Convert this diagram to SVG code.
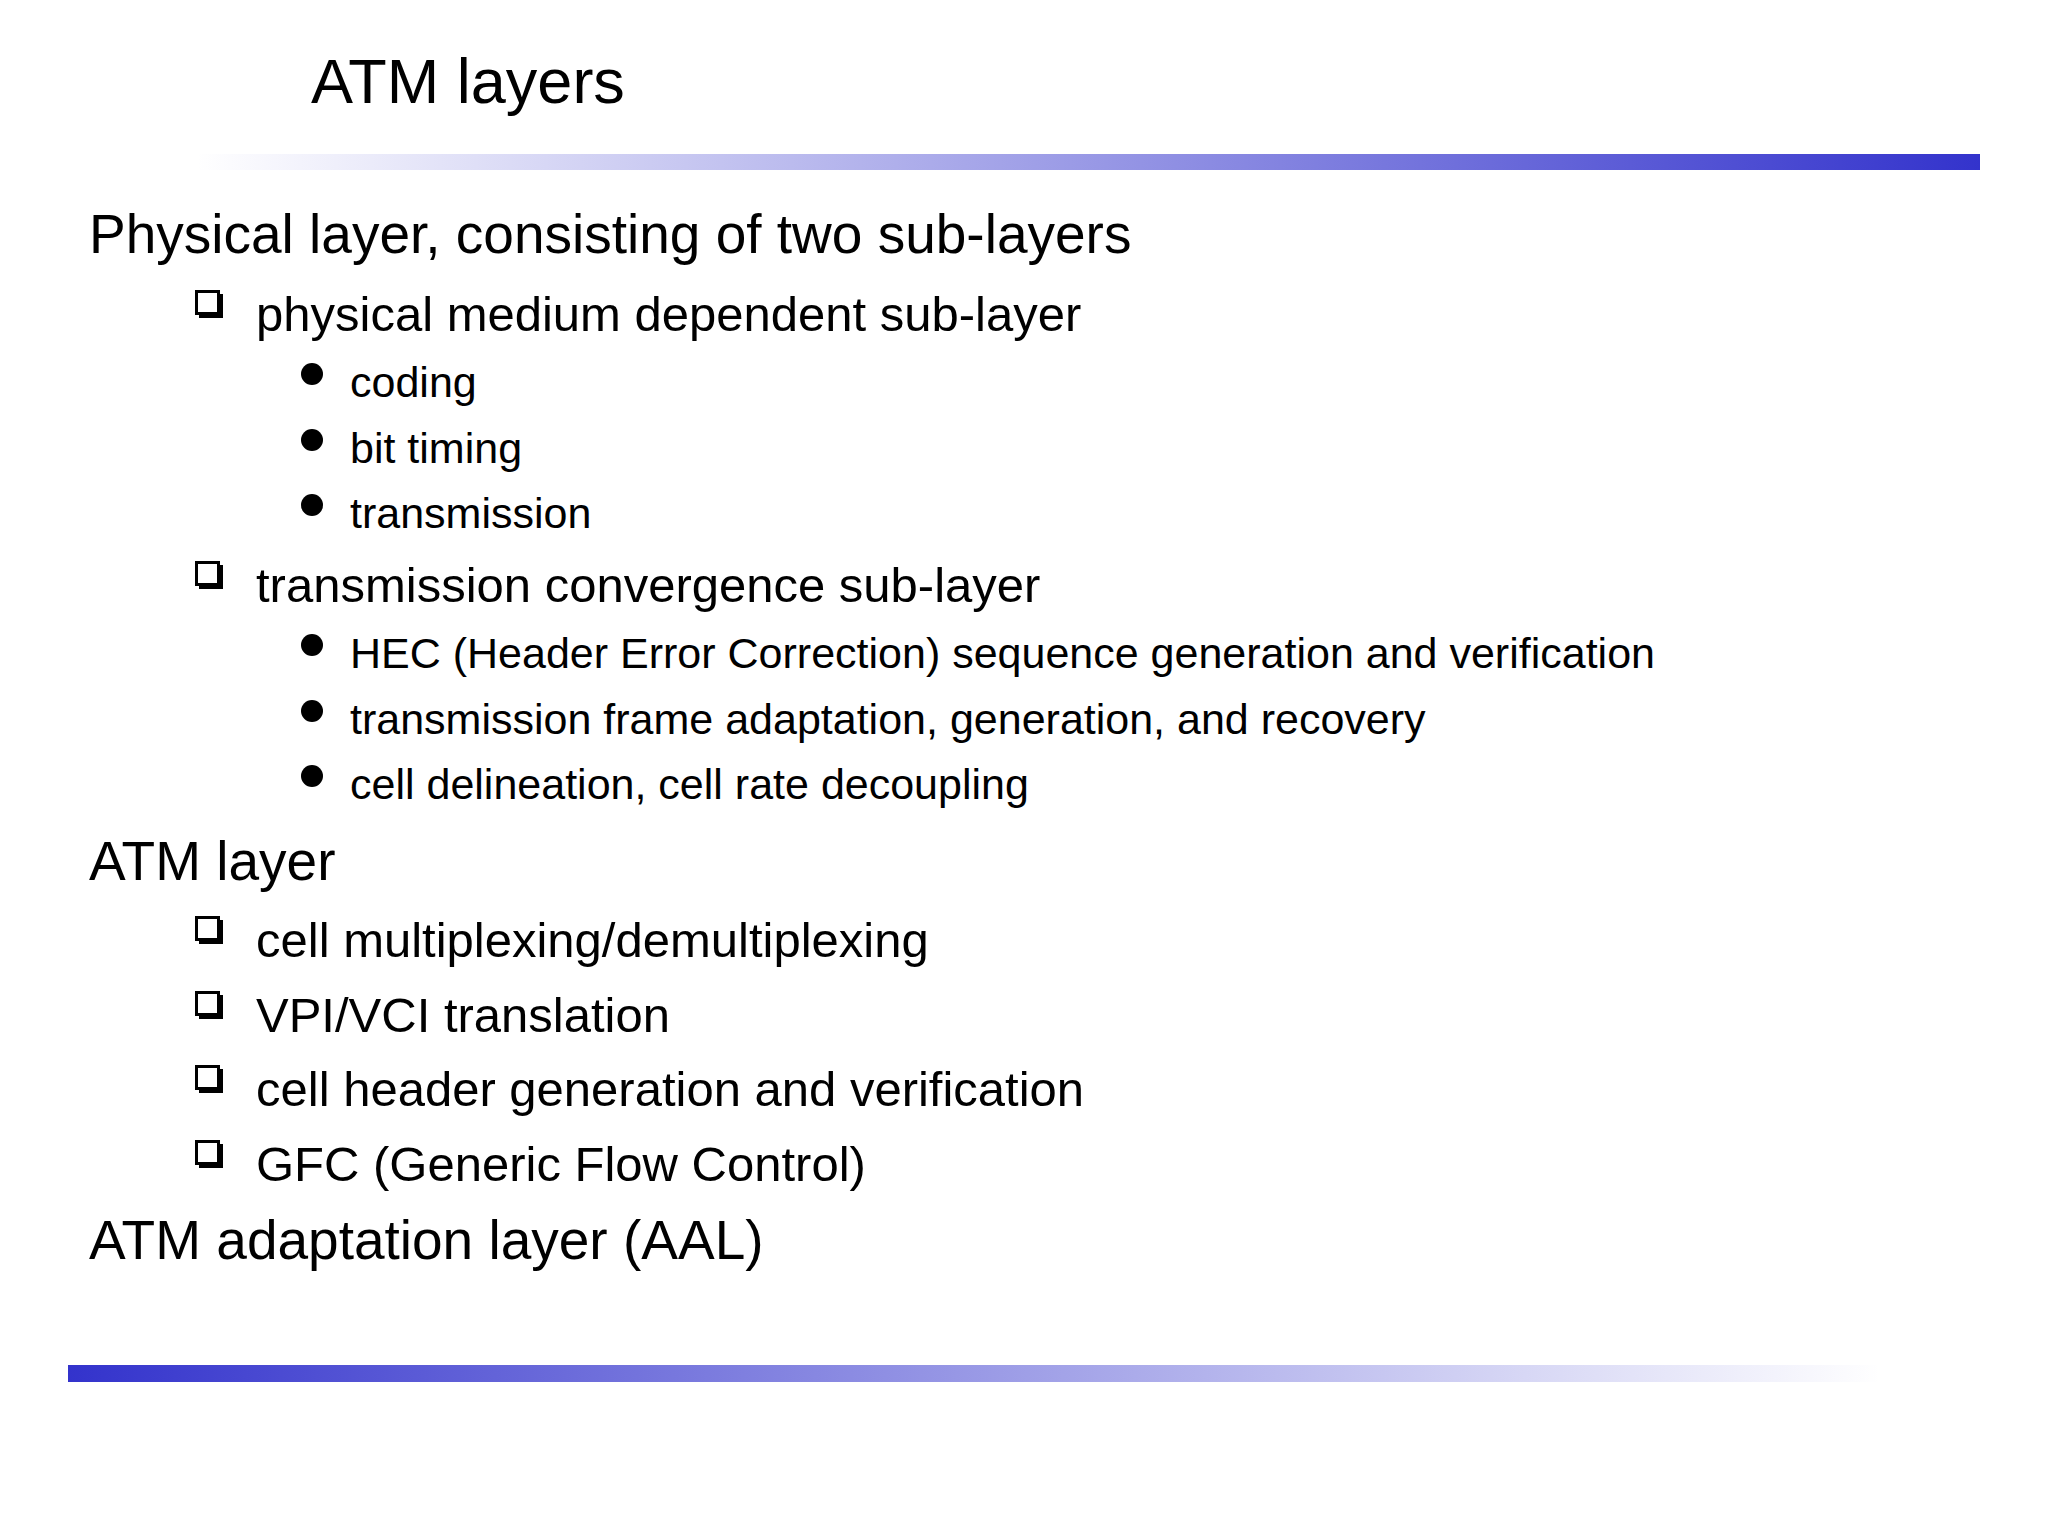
<svg xmlns="http://www.w3.org/2000/svg" width="2048" height="1536" viewBox="0 0 2048 1536">
<defs>
<linearGradient id="gt" x1="0" x2="1" y1="0" y2="0"><stop offset="0" stop-color="#3333cc" stop-opacity="0"/><stop offset="1" stop-color="#3333cc"/></linearGradient>
<linearGradient id="gb" x1="0" x2="1" y1="0" y2="0"><stop offset="0" stop-color="#3333cc"/><stop offset="1" stop-color="#3333cc" stop-opacity="0"/></linearGradient>
<g id="cb"><path d="M4 4 H28 V28 H4 Z" fill="#000"/><rect x="1.5" y="1.5" width="22" height="22" fill="#fff" stroke="#000" stroke-width="3"/></g>
</defs>
<style>
text{font-family:"Liberation Sans",Arial,sans-serif;fill:#000}
.t{font-size:63px}.l1{font-size:55px}.l2{font-size:49px}.l3{font-size:43px}
</style>
<rect width="2048" height="1536" fill="#fff"/>
<rect x="196" y="154" width="1784" height="16" fill="url(#gt)"/>
<rect x="68" y="1365" width="1813" height="17" fill="url(#gb)"/>
<text class="t" x="311" y="103">ATM layers</text>
<g id="content">
<text class="l1" x="89" y="253">Physical layer, consisting of two sub-layers</text>
<use href="#cb" x="195" y="290"/><text class="l2" x="256" y="331">physical medium dependent sub-layer</text>
<circle cx="312" cy="374" r="11"/><text class="l3" x="350" y="397">coding</text>
<circle cx="312" cy="440" r="11"/><text class="l3" x="350" y="463">bit timing</text>
<circle cx="312" cy="505" r="11"/><text class="l3" x="350" y="528">transmission</text>
<use href="#cb" x="195" y="561"/><text class="l2" x="256" y="602">transmission convergence sub-layer</text>
<circle cx="312" cy="645" r="11"/><text class="l3" x="350" y="668">HEC (Header Error Correction) sequence generation and verification</text>
<circle cx="312" cy="711" r="11"/><text class="l3" x="350" y="734">transmission frame adaptation, generation, and recovery</text>
<circle cx="312" cy="776" r="11"/><text class="l3" x="350" y="799">cell delineation, cell rate decoupling</text>
<text class="l1" x="89" y="880">ATM layer</text>
<use href="#cb" x="195" y="916"/><text class="l2" x="256" y="957">cell multiplexing/demultiplexing</text>
<use href="#cb" x="195" y="991"/><text class="l2" x="256" y="1032">VPI/VCI translation</text>
<use href="#cb" x="195" y="1065"/><text class="l2" x="256" y="1106">cell header generation and verification</text>
<use href="#cb" x="195" y="1140"/><text class="l2" x="256" y="1181">GFC (Generic Flow Control)</text>
<text class="l1" x="89" y="1259">ATM adaptation layer (AAL)</text>
</g>
</svg>
